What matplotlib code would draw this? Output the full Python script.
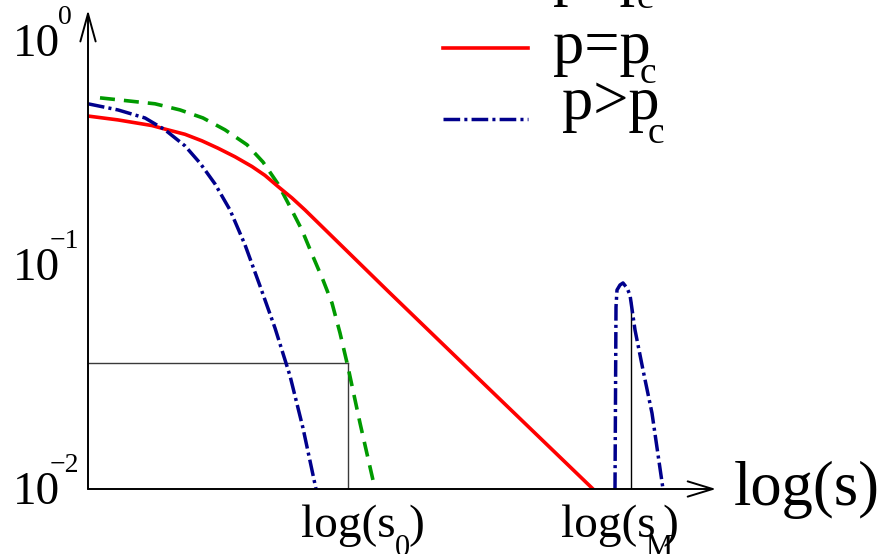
import matplotlib
matplotlib.use("Agg")
import matplotlib.pyplot as plt
import matplotlib.transforms as mtransforms
from matplotlib.lines import Line2D

plt.rcParams['font.family'] = ['Liberation Serif', 'DejaVu Serif']
plt.rcParams['lines.scale_dashes'] = False

# Cluster-size distributions n(s) against log(s), y on a log axis
sub_x = [0.12, 0.40, 0.67, 0.92, 1.15, 1.37, 1.59, 1.75, 1.90, 2.02, 2.14,
         2.25, 2.35, 2.44, 2.52, 2.60, 2.72, 2.87]
sub_y = [0.557, 0.540, 0.524, 0.492, 0.453, 0.401, 0.344, 0.288, 0.230,
         0.182, 0.143, 0.109, 0.0857, 0.0676, 0.0497, 0.0350, 0.0197, 0.0100]

crit_x = [0.00, 0.30, 0.64, 0.77, 0.97, 1.14, 1.30, 1.47, 1.64, 1.77, 1.90,
          2.04, 2.17, 3.00, 4.00, 5.05]
crit_y = [0.462, 0.444, 0.419, 0.404, 0.383, 0.358, 0.332, 0.304, 0.275,
          0.251, 0.224, 0.199, 0.176, 0.0764, 0.0283, 0.0100]

sup_x = [0.00, 0.30, 0.57, 0.77, 0.97, 1.12, 1.27, 1.42, 1.57, 1.72, 1.87,
         2.02, 2.15, 2.28]
sup_y = [0.524, 0.492, 0.453, 0.401, 0.340, 0.285, 0.230, 0.176, 0.123,
         0.0806, 0.0523, 0.0320, 0.0187, 0.0100]

# giant-cluster peak of the supercritical distribution
sup_peak_x = [5.27, 5.28, 5.29, 5.32, 5.35, 5.39, 5.42, 5.47, 5.55, 5.64, 5.75]
sup_peak_y = [0.0100, 0.0649, 0.0773, 0.0814, 0.0831, 0.0789, 0.0734,
              0.0513, 0.0340, 0.0218, 0.0100]

# characteristic sizes
s0_x, s0_y = 2.60, 0.0365
sM_x, sM_y = 5.43, 0.0684

ytick_vals = [1e-2, 1e-1, 1e0]
ytick_exps = ['\u22122', '\u22121', '0']

legend_main = ['p<p', 'p=p', 'p>p']
legend_sub = ['c', 'c', 'c']

x_max = 6.28
y_min, y_max = 1e-2, 1.374

GREEN = '#009a00'
RED = '#ff0000'
NAVY = '#00008c'
style_sub = dict(color=GREEN, lw=2.6, linestyle=(0, (10.8, 6.5)))
style_crit = dict(color=RED, lw=2.6, linestyle='-')
style_sup = dict(color=NAVY, lw=2.5, linestyle=(0, (12, 3, 2.2, 3)))


def pt(px):
    return px * 0.72


fig = plt.figure(figsize=(8.87, 5.54), dpi=100)
W, H = 887, 554
ax = fig.add_axes([88 / W, 65 / H, 628 / W, 479 / H])
ax.set_yscale('log')
ax.set_xlim(0, x_max)
ax.set_ylim(y_min, y_max)
for sp in ax.spines.values():
    sp.set_visible(False)
ax.set_xticks([])
ax.set_yticks([])
ax.yaxis.set_minor_locator(matplotlib.ticker.NullLocator())

# axes drawn as arrows
arrow = dict(arrowstyle='->, head_length=0.4, head_width=0.11', lw=1.4,
             color='black', mutation_scale=50, shrinkA=0, shrinkB=0)
ax.annotate('', xy=(0, 1), xytext=(0, 0), xycoords='axes fraction',
            textcoords='axes fraction', arrowprops=arrow, annotation_clip=False)
ax.annotate('', xy=(1, 0), xytext=(0, 0), xycoords='axes fraction',
            textcoords='axes fraction',
            arrowprops=dict(arrow, arrowstyle='->, head_length=0.36, head_width=0.11'),
            annotation_clip=False)

# guide lines for s0 and sM
ax.plot([0, s0_x], [s0_y, s0_y], color='#3a3a3a', lw=1.0)
ax.plot([s0_x, s0_x], [y_min, s0_y], color='#3a3a3a', lw=1.0)
ax.plot([sM_x, sM_x], [y_min, sM_y], color='black', lw=1.0)

ax.plot(sub_x, sub_y, **style_sub)
ax.plot(crit_x, crit_y, **style_crit)
ax.plot(sup_x, sup_y, **style_sup)
ax.plot(sup_peak_x, sup_peak_y, **style_sup)

# y tick labels as 10 with a raised exponent
ytrans = mtransforms.blended_transform_factory(ax.transAxes, ax.transData)
for val, exp, edx in zip(ytick_vals, ytick_exps, [-38, -38, -30]):
    ax.annotate('10', xy=(0, val), xycoords=ytrans, xytext=(pt(-75), pt(-15)),
                textcoords='offset points', ha='left', va='baseline',
                fontsize=34, annotation_clip=False)
    ax.annotate(exp, xy=(0, val), xycoords=ytrans, xytext=(pt(edx), pt(17)),
                textcoords='offset points', ha='left', va='baseline',
                fontsize=20, annotation_clip=False)


def sub_label(x, main, sub, dx_main, dx_sub, dx_close):
    kw = dict(xy=(x, y_min), xycoords='data', textcoords='offset points',
              ha='left', va='baseline', annotation_clip=False)
    ax.annotate(main, xytext=(pt(dx_main), pt(-48)), fontsize=34, **kw)
    ax.annotate(sub, xytext=(pt(dx_main + dx_sub), pt(-67)), fontsize=22, **kw)
    ax.annotate(')', xytext=(pt(dx_main + dx_close), pt(-48)), fontsize=34, **kw)


sub_label(s0_x, 'log(s', '0', -47, 94, 107)
sub_label(sM_x, 'log(s', 'M', -70, 84, 101)

ax.annotate('log(s)', xy=(1, 0), xycoords='axes fraction',
            xytext=(pt(18), pt(-16)), textcoords='offset points',
            ha='left', va='baseline', fontsize=45, annotation_clip=False)

# legend (top entry runs off the upper edge)
legend_rows = [
    (style_sub, -23, 553, -7, 637, 8),
    (style_crit, 48, 553, 63, 640, 83),
    (style_sup, 119, 562, 119, 648, 143),
]
for (st, yl, xt, yb, xc, yc), main, sub in zip(legend_rows, legend_main, legend_sub):
    fig.add_artist(Line2D([443 / W, 528 / W], [1 - yl / H, 1 - yl / H],
                          transform=fig.transFigure, **st))
    fig.text(xt / W, 1 - yb / H, main, fontsize=45, ha='left', va='baseline')
    fig.text(xc / W, 1 - yc / H, sub, fontsize=27, ha='left', va='baseline')

fig.savefig('out.png', dpi=100)
